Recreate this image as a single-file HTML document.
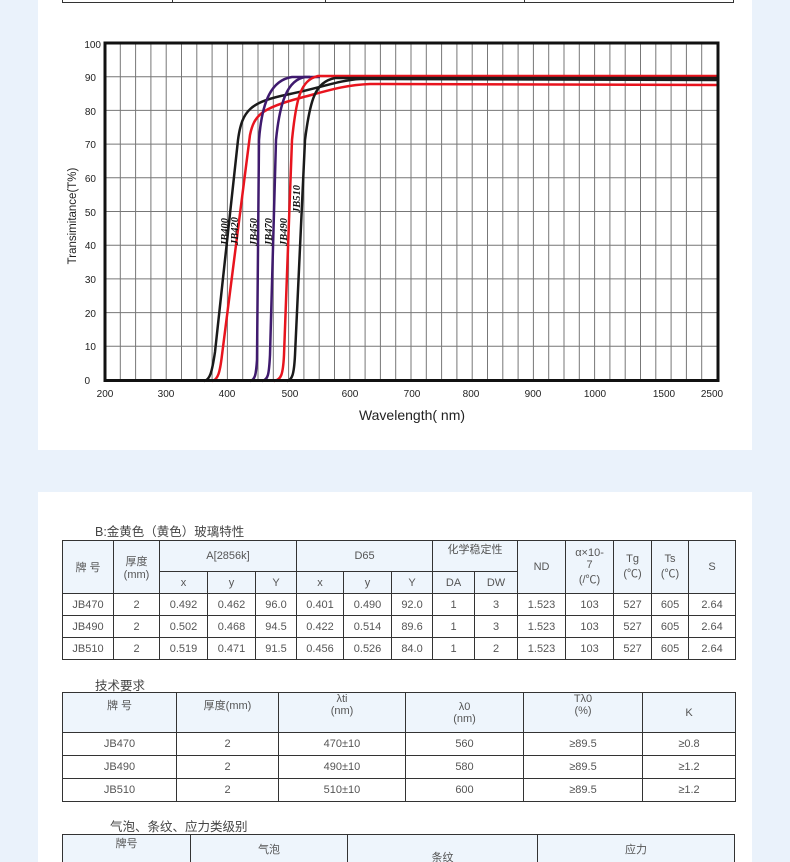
<!DOCTYPE html>
<html style="width:790px;height:862px;overflow:hidden"><head><meta charset="utf-8"><style>
body{margin:0;width:790px;height:862px;background:#eaf2fb;position:relative;overflow:hidden;font-family:"Liberation Sans","Noto Sans CJK SC",sans-serif;color:#555}
.panel{position:absolute;background:#fff;left:38px;width:714px}
table{position:absolute;border-collapse:collapse;table-layout:fixed}
td{border:1.5px solid #333;text-align:center;font-size:11px;color:#555;padding:0;overflow:hidden}
.h td{background:#eef5fc}
.t{position:absolute;font-size:12.5px;color:#444}
</style></head><body>
<div class="panel" style="top:0;height:450px"></div>
<div class="panel" style="top:492px;height:370px"></div>
<table style="left:62px;top:-20px;width:672px;height:23px"><tr><td style="width:109px"></td><td style="width:152px"></td><td style="width:198px"></td><td></td></tr></table>

<svg style="position:absolute;left:0;top:0" width="790" height="450">
<g stroke="#777" stroke-width="1">
<path d="M120.3 43V380M135.6 43V380M150.9 43V380M166.2 43V380M181.5 43V380M196.8 43V380M212.1 43V380M227.4 43V380M242.7 43V380M258 43V380M273.3 43V380M288.6 43V380M303.9 43V380M319.2 43V380M334.5 43V380M349.8 43V380M365.1 43V380M380.4 43V380M395.7 43V380M411 43V380M426.3 43V380M441.6 43V380M456.9 43V380M472.2 43V380M487.5 43V380M502.8 43V380M518.1 43V380M533.4 43V380M548.7 43V380M564 43V380M579.3 43V380M594.6 43V380M609.9 43V380M625.2 43V380M640.5 43V380M655.8 43V380M671.1 43V380M686.4 43V380M701.7 43V380"/>
<path d="M105 76.7H718M105 110.4H718M105 144.1H718M105 177.8H718M105 211.5H718M105 245.2H718M105 278.9H718M105 312.6H718M105 346.3H718"/>
</g>
<g fill="none" stroke-width="2.5">
<path stroke="#1a1a1a" d="M204 381C210 380 212 372 215 352L238 140C242 110 250 102 290 94C320 88 340 80 360 79L718 80"/>
<path stroke="#e8141e" d="M212 381C218 380 220 372 222 355L250 135C254 115 262 108 300 98C330 90 345 85 370 84L718 85"/>
<path stroke="#3f1a6e" d="M250 381C255 380 256 375 257 360L259 140C262 100 272 80 292 77L310 77"/>
<path stroke="#3f1a6e" d="M262 381C268 380 269 375 270 355L276 140C280 100 288 80 305 77L320 77"/>
<path stroke="#e8141e" d="M274 381C281 380 283 375 284 355L292 140C296 100 300 80 318 76L718 76"/>
<path stroke="#1a1a1a" d="M287 381C292 380 294 375 295 355L305 140C310 100 315 82 335 78L718 78"/>
</g>
<rect x="105" y="43" width="613" height="337.5" fill="none" stroke="#111" stroke-width="3"/>
<g font-family="Liberation Serif,serif" font-weight="bold" font-style="italic" font-size="10.5" fill="#111">
<text transform="translate(228,246) rotate(-90)">JB400</text>
<text transform="translate(238,245) rotate(-90)">JB420</text>
<text transform="translate(257,246) rotate(-90)">JB450</text>
<text transform="translate(272,246) rotate(-90)">JB470</text>
<text transform="translate(287,246) rotate(-90)">JB490</text>
<text transform="translate(300,213) rotate(-90)">JB510</text>
</g>
<g font-size="10" fill="#222" text-anchor="end">
<text x="101" y="48">100</text><text x="96" y="81">90</text><text x="96" y="115">80</text><text x="96" y="148">70</text><text x="96" y="182">60</text><text x="96" y="216">50</text><text x="96" y="249">40</text><text x="96" y="283">30</text><text x="96" y="317">20</text><text x="96" y="350">10</text><text x="90" y="384">0</text>
</g>
<g font-size="10" fill="#222" text-anchor="middle">
<text x="105" y="397">200</text><text x="166" y="397">300</text><text x="227" y="397">400</text><text x="290" y="397">500</text><text x="350" y="397">600</text><text x="412" y="397">700</text><text x="471" y="397">800</text><text x="533" y="397">900</text><text x="595" y="397">1000</text><text x="664" y="397">1500</text><text x="712" y="397">2500</text>
</g>
<text x="412" y="420" font-size="14" fill="#222" text-anchor="middle">Wavelength( nm)</text>
<text transform="translate(76,216) rotate(-90)" font-size="11.5" fill="#222" text-anchor="middle">Transimitance(T%)</text>
</svg>

<div class="t" style="left:95px;top:521px">B:金黄色（黄色）玻璃特性</div>
<table style="left:62px;top:540px;width:673px">
<colgroup><col style="width:51px"><col style="width:46px"><col style="width:48px"><col style="width:48px"><col style="width:41px"><col style="width:47px"><col style="width:48px"><col style="width:41px"><col style="width:42px"><col style="width:43px"><col style="width:48px"><col style="width:48px"><col style="width:38px"><col style="width:37px"><col style="width:47px"></colgroup>
<tr class="h" style="height:31px"><td rowspan="2">牌 号</td><td rowspan="2">厚度<br>(mm)</td><td colspan="3">A[2856k]</td><td colspan="3">D65</td><td colspan="2" style="vertical-align:top">化学稳定性</td><td rowspan="2">ND</td><td rowspan="2">α×10-<br>7<br>(/℃)</td><td rowspan="2">Tg<br>(℃)</td><td rowspan="2">Ts<br>(℃)</td><td rowspan="2">S</td></tr>
<tr class="h" style="height:22px"><td>x</td><td>y</td><td>Y</td><td>x</td><td>y</td><td>Y</td><td>DA</td><td>DW</td></tr>
<tr style="height:22px"><td>JB470</td><td>2</td><td>0.492</td><td>0.462</td><td>96.0</td><td>0.401</td><td>0.490</td><td>92.0</td><td>1</td><td>3</td><td>1.523</td><td>103</td><td>527</td><td>605</td><td>2.64</td></tr>
<tr style="height:22px"><td>JB490</td><td>2</td><td>0.502</td><td>0.468</td><td>94.5</td><td>0.422</td><td>0.514</td><td>89.6</td><td>1</td><td>3</td><td>1.523</td><td>103</td><td>527</td><td>605</td><td>2.64</td></tr>
<tr style="height:22px"><td>JB510</td><td>2</td><td>0.519</td><td>0.471</td><td>91.5</td><td>0.456</td><td>0.526</td><td>84.0</td><td>1</td><td>2</td><td>1.523</td><td>103</td><td>527</td><td>605</td><td>2.64</td></tr>
</table>

<div class="t" style="left:95px;top:675px">技术要求</div>
<table style="left:62px;top:692px;width:673px">
<colgroup><col style="width:114px"><col style="width:102px"><col style="width:127px"><col style="width:118px"><col style="width:119px"><col style="width:93px"></colgroup>
<tr class="h" style="height:40px"><td style="vertical-align:top;padding-top:4px">牌 号</td><td style="vertical-align:top;padding-top:4px">厚度(mm)</td><td style="vertical-align:top">λti<br>(nm)</td><td>λ0<br>(nm)</td><td style="vertical-align:top">Tλ0<br>(%)</td><td>K</td></tr>
<tr style="height:23px"><td>JB470</td><td>2</td><td>470±10</td><td>560</td><td>≥89.5</td><td>≥0.8</td></tr>
<tr style="height:23px"><td>JB490</td><td>2</td><td>490±10</td><td>580</td><td>≥89.5</td><td>≥1.2</td></tr>
<tr style="height:23px"><td>JB510</td><td>2</td><td>510±10</td><td>600</td><td>≥89.5</td><td>≥1.2</td></tr>
</table>

<div class="t" style="left:110px;top:816px">气泡、条纹、应力类级别</div>
<table style="left:62px;top:834px;width:673px">
<colgroup><col style="width:128px"><col style="width:157px"><col style="width:190px"><col></colgroup>
<tr class="h" style="height:40px"><td style="vertical-align:top">牌号</td><td style="vertical-align:top;padding-top:6px">气泡</td><td style="vertical-align:top;padding-top:14px">条纹</td><td style="vertical-align:top;padding-top:6px">应力</td></tr>
</table>
</body></html>
